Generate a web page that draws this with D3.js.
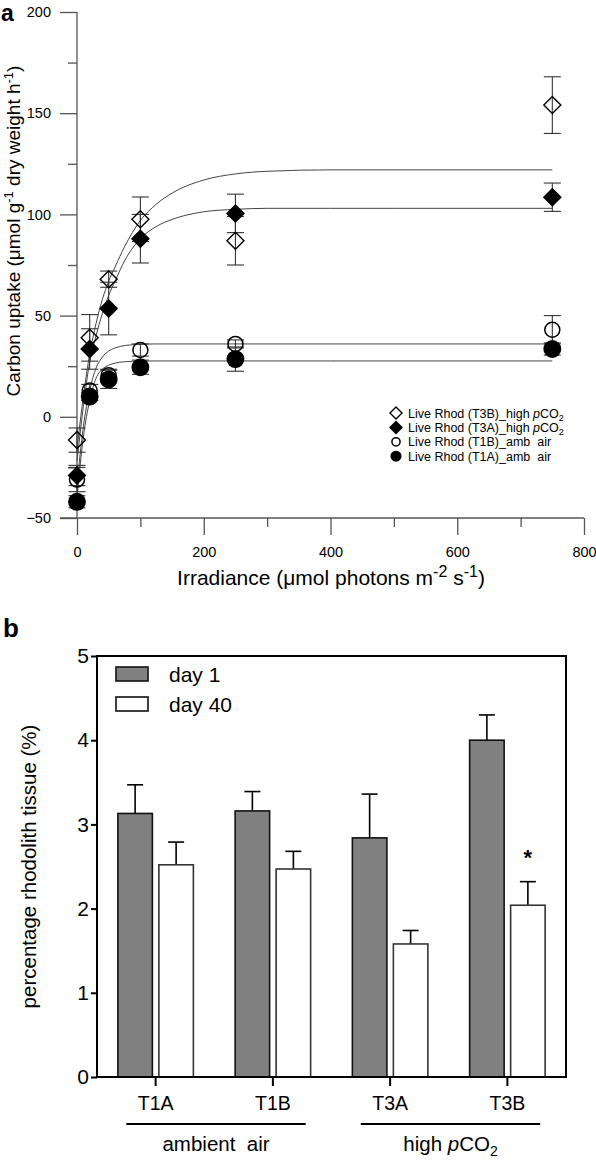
<!DOCTYPE html>
<html><head><meta charset="utf-8">
<script src="https://cdn.jsdelivr.net/npm/d3@7"></script>
<style>body{margin:0;background:#fff}svg{display:block;font-family:"Liberation Sans",Arial,sans-serif}</style>
</head><body>
<svg id="c" width="596" height="1160"></svg>
<script>
// ---------- Panel a data ----------
const irradiance = [0, 20, 50, 100, 250, 750];
const t3bMean = [-11.5, 39, 68, 97.6, 87, 154];
const t3bErr  = [6, 11.5, 4, 11, 12, 14];
const t3aMean = [-29, 33.5, 53.5, 88, 100.5, 108.5];
const t3aErr  = [5, 10, 13, 12, 9.5, 7];
const t1bMean = [-31, 13, 20.5, 33, 36, 43];
const t1bErr  = [6, 3, 3, 3, 2, 7];
const t1aMean = [-42, 10, 18.5, 24.5, 28.5, 33.5];
const t1aErr  = [3, 2, 4.5, 3.5, 6, 3];
// fitted curves
const curveIrr = [0, 10, 20, 30, 40, 50, 60, 75, 100, 125, 150, 200, 250, 300, 400, 500, 750];
const t3bFit = [-16, 10, 31, 46, 58, 67, 74, 84, 97, 105, 110.5, 117, 120, 121.3, 122, 122, 122];
const t3aFit = [-22, 5, 27, 40, 51, 60, 67, 77, 88, 94, 97.5, 101.3, 102.5, 103, 103, 103, 103];
const t1bFit = [-34, -5, 13, 24, 29.5, 32.5, 34, 35.2, 35.8, 36, 36, 36, 36, 36, 36, 36, 36];
const t1aFit = [-40, -10, 8, 19, 23.5, 25.5, 26.5, 27.2, 27.5, 27.6, 27.6, 27.6, 27.6, 27.6, 27.6, 27.6, 27.6];
const xTicksA = [0, 200, 400, 600, 800];
const yTicksA = [-50, 0, 50, 100, 150, 200];

// ---------- Panel b data ----------
const groups = ["T1A", "T1B", "T3A", "T3B"];
const days = ["day 1", "day 40"];
const day1Mean = [3.13, 3.16, 2.84, 4.0];
const day1Err  = [0.34, 0.23, 0.52, 0.30];
const day40Mean = [2.52, 2.47, 1.58, 2.04];
const day40Err  = [0.27, 0.21, 0.16, 0.28];
const yTicksB = [0, 1, 2, 3, 4, 5];
const treatments = ["ambient  air", "high pCO2"];

const svg = d3.select("#c");
const axisCol = "#555";
const FF = "Liberation Sans, Arial, sans-serif";

// ================= Panel a =================
const xA = d3.scaleLinear().domain([0, 800]).range([77, 584]);
const yA = d3.scaleLinear().domain([-50, 200]).range([518, 12]);

svg.append("text").attr("x", 1).attr("y", 21).attr("font-size", 23).attr("font-weight", "bold").text("a");

// y axis
const gyA = svg.append("g").attr("transform", `translate(${xA(0)},0)`);
gyA.call(d3.axisLeft(yA).tickValues(yTicksA).tickSize(17).tickPadding(9).tickFormat(d3.format("d")));
gyA.append("g").call(d3.axisLeft(yA).tickValues([-25, 25, 75, 125, 175]).tickSize(9).tickFormat(""));
gyA.selectAll("path").remove();
gyA.append("line").attr("y1", yA(-50)).attr("y2", yA(200)).attr("stroke", axisCol).attr("stroke-width", 1.3);
gyA.selectAll("line").attr("stroke", axisCol).attr("stroke-width", 1.3);
gyA.selectAll("text").attr("font-size", 14.5).attr("fill", "#000").attr("font-family", FF);

// x axis
const gxA = svg.append("g").attr("transform", `translate(0,${yA(-50)})`);
gxA.call(d3.axisBottom(xA).tickValues(xTicksA).tickSize(17).tickPadding(12).tickFormat(d3.format("d")));
gxA.append("g").call(d3.axisBottom(xA).tickValues([100, 300, 500, 700]).tickSize(9).tickFormat(""));
gxA.selectAll("path").remove();
gxA.append("line").attr("x1", xA(0) - 17).attr("x2", xA(800)).attr("stroke", axisCol).attr("stroke-width", 1.3);
gxA.selectAll("line").attr("stroke", axisCol).attr("stroke-width", 1.3);
gxA.selectAll("text").attr("font-size", 14.5).attr("fill", "#000").attr("font-family", FF);

// axis labels
const ylA = svg.append("text").attr("transform", `translate(20,231) rotate(-90)`)
  .attr("text-anchor", "middle").attr("font-size", 19);
ylA.append("tspan").text("Carbon uptake (\u03bcmol g");
ylA.append("tspan").attr("dy", -7).attr("font-size", 13).text("-1");
ylA.append("tspan").attr("dy", 7).text(" dry weight h");
ylA.append("tspan").attr("dy", -7).attr("font-size", 13).text("-1");
ylA.append("tspan").attr("dy", 7).text(")");

const xlA = svg.append("text").attr("x", 331).attr("y", 585).attr("text-anchor", "middle").attr("font-size", 21);
xlA.append("tspan").text("Irradiance (\u03bcmol photons m");
xlA.append("tspan").attr("dy", -8).attr("font-size", 16).text("-2");
xlA.append("tspan").attr("dy", 8).text(" s");
xlA.append("tspan").attr("dy", -8).attr("font-size", 16).text("-1");
xlA.append("tspan").attr("dy", 8).text(")");

// curves
const line = d3.line().x((d, i) => xA(curveIrr[i])).y(d => yA(d)).curve(d3.curveMonotoneX);
[t3bFit, t3aFit, t1bFit, t1aFit].forEach(f => {
  svg.append("path").attr("d", line(f)).attr("fill", "none").attr("stroke", "#444").attr("stroke-width", 1);
});

const series = [
  {mean: t3bMean, err: t3bErr, shape: "diamond", filled: false, name: "Live Rhod (T3B)_high ", co2: true},
  {mean: t1bMean, err: t1bErr, shape: "circle", filled: false, name: "Live Rhod (T1B)_amb  air", co2: false},
  {mean: t3aMean, err: t3aErr, shape: "diamond", filled: true, name: "Live Rhod (T3A)_high ", co2: true},
  {mean: t1aMean, err: t1aErr, shape: "circle", filled: true, name: "Live Rhod (T1A)_amb  air", co2: false}
];

function marker(g, shape, filled, cx, cy, s) {
  if (shape === "diamond") {
    g.append("path").attr("d", `M${cx},${cy - s}L${cx + s},${cy}L${cx},${cy + s}L${cx - s},${cy}Z`)
      .attr("fill", filled ? "#000" : "none").attr("stroke", "#000").attr("stroke-width", 1.4);
  } else {
    g.append("circle").attr("cx", cx).attr("cy", cy).attr("r", filled ? s : s - 0.7)
      .attr("fill", filled ? "#000" : "none").attr("stroke", "#000").attr("stroke-width", 1.5);
  }
}

// error bars
series.forEach(s => {
  const g = svg.append("g");
  irradiance.forEach((x, i) => {
    const cx = xA(x), top = yA(s.mean[i] + s.err[i]), bot = yA(s.mean[i] - s.err[i]);
    g.append("line").attr("x1", cx).attr("x2", cx).attr("y1", top).attr("y2", bot).attr("stroke", "#333").attr("stroke-width", 1.1);
    [top, bot].forEach(yy => g.append("line").attr("x1", cx - 8.5).attr("x2", cx + 8.5).attr("y1", yy).attr("y2", yy).attr("stroke", "#333").attr("stroke-width", 1.1));
  });
});
// markers
series.forEach(s => {
  const g = svg.append("g");
  irradiance.forEach((x, i) => marker(g, s.shape, s.filled, xA(x), yA(s.mean[i]), s.shape === "diamond" ? 8.5 : 8.2));
});

// legend a
const legOrder = [series[0], series[2], series[1], series[3]];
legOrder.forEach((s, i) => {
  const cy = 413 + i * 14.4;
  const g = svg.append("g");
  marker(g, s.shape, s.filled, 396, cy, s.shape === "diamond" ? 6 : 4.8);
  const t = g.append("text").attr("x", 408).attr("y", cy + 4.5).attr("font-size", 12.5).style("white-space", "pre");
  t.append("tspan").text(s.name);
  if (s.co2) {
    t.append("tspan").attr("font-style", "italic").text("p");
    t.append("tspan").text("CO");
    t.append("tspan").attr("font-size", 9).attr("dy", 3).text("2");
  }
});

// ================= Panel b =================
const xB = d3.scaleBand().domain(groups).range([97, 566]);
const barW = 34.5, gapW = 6.5;
const yB = d3.scaleLinear().domain([0, 5]).range([1077, 656]);

svg.append("text").attr("x", 3).attr("y", 637).attr("font-size", 26).attr("font-weight", "bold").text("b");

// bars
const barData = [];
groups.forEach((g, i) => {
  barData.push({g, day: days[0], v: day1Mean[i], e: day1Err[i]});
  barData.push({g, day: days[1], v: day40Mean[i], e: day40Err[i]});
});
const bx = d => xB(d.g) + xB.bandwidth() / 2 + (d.day === days[0] ? -gapW / 2 - barW : gapW / 2);
// error bars (upper)
barData.forEach(d => {
  const cx = bx(d) + barW / 2;
  svg.append("line").attr("x1", cx).attr("x2", cx).attr("y1", yB(d.v)).attr("y2", yB(d.v + d.e)).attr("stroke", "#000").attr("stroke-width", 1.6);
  svg.append("line").attr("x1", cx - 8).attr("x2", cx + 8).attr("y1", yB(d.v + d.e)).attr("y2", yB(d.v + d.e)).attr("stroke", "#000").attr("stroke-width", 1.6);
});
svg.append("g").selectAll("rect").data(barData).join("rect")
  .attr("x", bx).attr("width", barW)
  .attr("y", d => yB(d.v)).attr("height", d => yB(0) - yB(d.v))
  .attr("fill", d => d.day === days[0] ? "#808080" : "#fff")
  .attr("stroke", d => d.day === days[0] ? "#111" : "#333").attr("stroke-width", 1.6);

// asterisk
svg.append("text").attr("x", bx(barData[7]) + barW / 2).attr("y", yB(2.65) + 11).attr("text-anchor", "middle")
  .attr("font-size", 22).attr("font-weight", "bold").text("*");

// frame
svg.append("rect").attr("x", 97).attr("y", yB(5)).attr("width", 566 - 97).attr("height", yB(0) - yB(5))
  .attr("fill", "none").attr("stroke", "#000").attr("stroke-width", 2);

// y axis b
const gyB = svg.append("g").attr("transform", "translate(97,0)");
gyB.call(d3.axisLeft(yB).tickValues(yTicksB).tickSize(6).tickPadding(2).tickFormat(d3.format("d")));
gyB.selectAll("path").remove();
gyB.selectAll("line").attr("stroke", "#000").attr("stroke-width", 2);
gyB.selectAll("text").attr("font-size", 21).attr("fill", "#000").attr("font-family", FF);

// x axis b
const gxB = svg.append("g").attr("transform", `translate(0,${yB(0)})`);
gxB.call(d3.axisBottom(xB).tickSize(9).tickPadding(10));
gxB.selectAll("path").remove();
gxB.selectAll("line").attr("stroke", "#000").attr("stroke-width", 2);
gxB.selectAll("text").attr("font-size", 19.5).attr("fill", "#000").attr("font-family", FF);

// treatment lines & labels
const step = xB.step();
[[0, 1], [2, 3]].forEach((pair, k) => {
  const x1 = xB(groups[pair[0]]) + step / 2 - 0.25 * step;
  const x2 = xB(groups[pair[1]]) + step / 2 + 0.28 * step;
  svg.append("line").attr("x1", x1).attr("x2", x2).attr("y1", 1124).attr("y2", 1124).attr("stroke", "#000").attr("stroke-width", 2);
  const t = svg.append("text").attr("x", (x1 + x2) / 2).attr("y", 1151).attr("text-anchor", "middle").attr("font-size", 20.5)
    .style("white-space", "pre");
  if (k === 0) t.text(treatments[0]);
  else {
    t.append("tspan").text("high ");
    t.append("tspan").attr("font-style", "italic").text("p");
    t.append("tspan").text("CO");
    t.append("tspan").attr("font-size", 14).attr("dy", 5).text("2");
  }
});

// y label b
svg.append("text").attr("transform", `translate(36,${(yB(0) + yB(5)) / 2}) rotate(-90)`).attr("text-anchor", "middle")
  .attr("font-size", 20.5).text("percentage rhodolith tissue (%)");

// legend b
days.forEach((d, i) => {
  const y0 = 667 + i * 30;
  svg.append("rect").attr("x", 116).attr("y", y0).attr("width", 32).attr("height", 14)
    .attr("fill", i === 0 ? "#808080" : "#fff").attr("stroke", "#111").attr("stroke-width", 1.6);
  svg.append("text").attr("x", 169).attr("y", y0 + 15).attr("font-size", 21).text(d);
});
</script>
</body></html>
